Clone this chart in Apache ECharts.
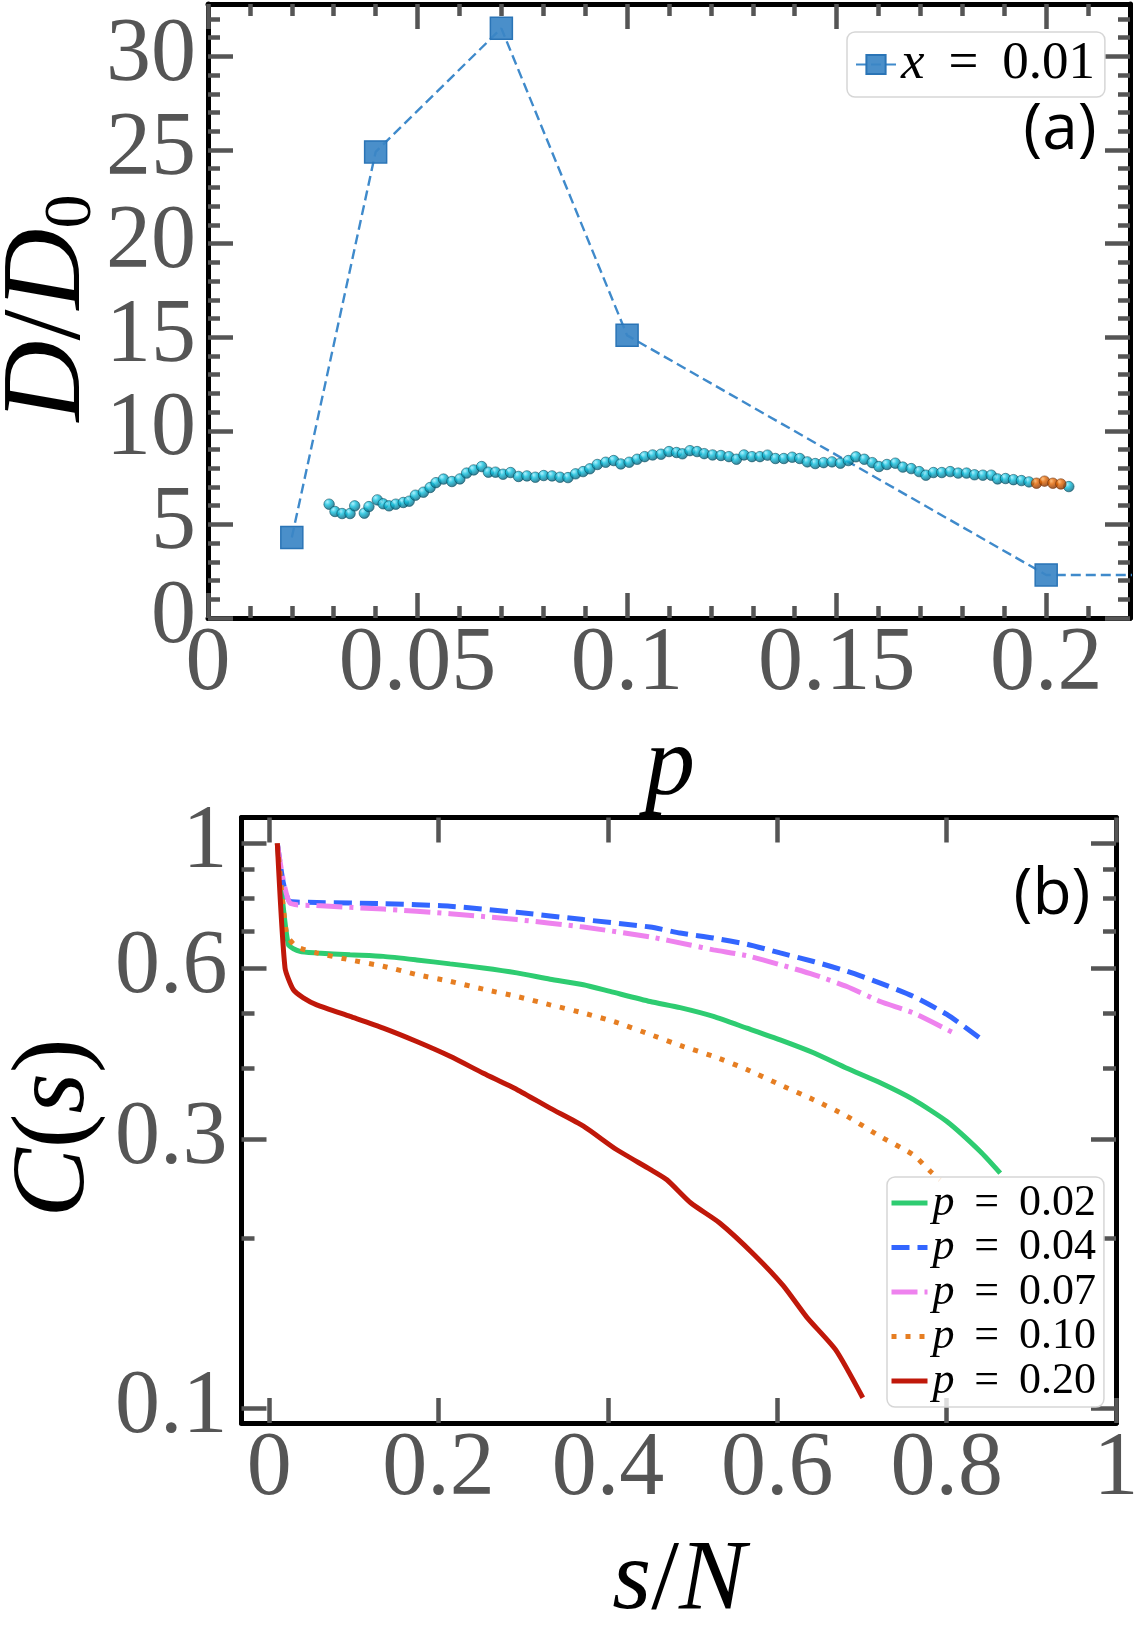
<!DOCTYPE html>
<html>
<head>
<meta charset="utf-8">
<script src="https://cdn.jsdelivr.net/npm/echarts@6/dist/echarts.min.js"></script>
<style>
html, body { margin: 0; background: #fff; }
#main { width: 1134px; height: 1626px; }
</style>
</head>
<body>
<div id="main"></div>
<script>
// ---- panel (a) : D/D0 against p ----
var pValues = [0.02, 0.04, 0.07, 0.1, 0.2, 0.3];
var dRatio = [4.3, 24.9, 31.5, 15.1, 2.3, 2.3];

// polymer picture drawn over panel (a), bead by bead
var chainP = [0.0289, 0.0303, 0.0320, 0.0339, 0.0350, 0.0373, 0.0384, 0.0404, 0.0418, 0.0432,
  0.0448, 0.0466, 0.0480, 0.0495, 0.0514, 0.0530, 0.0544, 0.0562, 0.0582, 0.0601,
  0.0617, 0.0634, 0.0653, 0.0669, 0.0686, 0.0704, 0.0722, 0.0741, 0.0761, 0.0781,
  0.0801, 0.0821, 0.0840, 0.0859, 0.0877, 0.0895, 0.0911, 0.0929, 0.0949, 0.0968,
  0.0985, 0.1005, 0.1024, 0.1042, 0.1061, 0.1081, 0.1100, 0.1118, 0.1132, 0.1150,
  0.1167, 0.1184, 0.1204, 0.1224, 0.1243, 0.1261, 0.1279, 0.1298, 0.1317, 0.1335,
  0.1354, 0.1374, 0.1394, 0.1412, 0.1430, 0.1449, 0.1469, 0.1489, 0.1509, 0.1528,
  0.1546, 0.1566, 0.1585, 0.1601, 0.1620, 0.1640, 0.1658, 0.1678, 0.1697, 0.1713,
  0.1731, 0.1751, 0.1771, 0.1790, 0.1810, 0.1829, 0.1849, 0.1869, 0.1884, 0.1903,
  0.1922, 0.1941, 0.1959, 0.2054];
var chainD = [6.08, 5.69, 5.58, 5.58, 5.99, 5.60, 5.95, 6.31, 6.10, 5.99,
  6.08, 6.17, 6.24, 6.56, 6.72, 6.97, 7.23, 7.42, 7.29, 7.43,
  7.74, 7.91, 8.09, 7.79, 7.79, 7.68, 7.77, 7.56, 7.59, 7.52,
  7.61, 7.59, 7.52, 7.50, 7.70, 7.82, 7.97, 8.20, 8.32, 8.41,
  8.23, 8.32, 8.48, 8.62, 8.71, 8.75, 8.89, 8.84, 8.77, 8.94,
  8.89, 8.78, 8.71, 8.68, 8.62, 8.48, 8.71, 8.62, 8.62, 8.70,
  8.52, 8.52, 8.59, 8.52, 8.34, 8.25, 8.30, 8.34, 8.27, 8.41,
  8.61, 8.48, 8.30, 8.09, 8.20, 8.27, 8.06, 7.98, 7.82, 7.63,
  7.77, 7.77, 7.82, 7.74, 7.74, 7.65, 7.63, 7.63, 7.43, 7.45,
  7.39, 7.34, 7.27, 7.02];
var chainTipP = [0.1977, 0.1996, 0.2016, 0.2035];
var chainTipD = [7.20, 7.31, 7.20, 7.16];

var aMajorX = [0, 0.05, 0.1, 0.15, 0.2];
var aMinorX = [0.01, 0.02, 0.03, 0.04, 0.06, 0.07, 0.08, 0.09, 0.11, 0.12, 0.13, 0.14,
  0.16, 0.17, 0.18, 0.19, 0.21];
var aMajorY = [0, 5, 10, 15, 20, 25, 30];
var aMinorY = [1, 2, 3, 4, 6, 7, 8, 9, 11, 12, 13, 14, 16, 17, 18, 19, 21, 22, 23, 24,
  26, 27, 28, 29, 31, 32];

// ---- panel (b) : C(s) against s/N ----
var sGreen = [0.0096, 0.0226, 0.0364, 0.0561, 0.0955, 0.1348, 0.1742, 0.2136, 0.2529, 0.2924,
  0.3317, 0.3711, 0.4026, 0.4499, 0.4853, 0.5246, 0.5641, 0.6034, 0.6428, 0.6822, 0.7216,
  0.7609, 0.8003, 0.8397, 0.8633];
var cGreen = [1.0, 0.662, 0.644, 0.640, 0.635, 0.631, 0.622, 0.612, 0.602, 0.590,
  0.575, 0.562, 0.547, 0.525, 0.512, 0.494, 0.471, 0.449, 0.426, 0.400, 0.377,
  0.352, 0.322, 0.285, 0.261];
var sBlue = [0.0096, 0.0167, 0.0246, 0.0561, 0.1348, 0.2136, 0.2924, 0.3711, 0.4499, 0.4853,
  0.5246, 0.5641, 0.6034, 0.6428, 0.6822, 0.7216, 0.7609, 0.8003, 0.8397];
var cBlue = [1.0, 0.851, 0.789, 0.786, 0.782, 0.774, 0.755, 0.733, 0.711, 0.694,
  0.680, 0.663, 0.640, 0.618, 0.594, 0.566, 0.536, 0.498, 0.452];
var sPink = [0.0096, 0.0246, 0.0561, 0.1348, 0.2136, 0.2924, 0.3711, 0.4499, 0.4971, 0.5246,
  0.5641, 0.6034, 0.6428, 0.6822, 0.7216, 0.7609, 0.8082];
var cPink = [1.0, 0.784, 0.776, 0.765, 0.751, 0.733, 0.711, 0.683, 0.661, 0.648,
  0.633, 0.610, 0.586, 0.558, 0.525, 0.501, 0.462];
var sOrange = [0.0096, 0.0207, 0.0325, 0.0561, 0.0955, 0.1348, 0.1742, 0.2136, 0.2529, 0.2924,
  0.3317, 0.3711, 0.4105, 0.4499, 0.4893, 0.5246, 0.5641, 0.6034, 0.6428, 0.6822, 0.7216,
  0.7609, 0.7806, 0.7924];
var cOrange = [1.0, 0.689, 0.656, 0.640, 0.622, 0.606, 0.586, 0.570, 0.552, 0.536,
  0.518, 0.501, 0.482, 0.459, 0.437, 0.420, 0.398, 0.374, 0.352, 0.329, 0.303,
  0.281, 0.263, 0.254];
var sRed = [0.0096, 0.0187, 0.0285, 0.0403, 0.0561, 0.0955, 0.1348, 0.1742, 0.2136, 0.2529,
  0.2924, 0.3317, 0.3711, 0.4105, 0.4499, 0.4696, 0.498, 0.532, 0.573, 0.607, 0.635,
  0.669, 0.701];
var cRed = [1.0, 0.602, 0.551, 0.533, 0.518, 0.494, 0.471, 0.446, 0.420, 0.392,
  0.367, 0.340, 0.316, 0.287, 0.265, 0.254, 0.231, 0.213, 0.187, 0.165, 0.145,
  0.127, 0.1045];

var bMajorX = [0, 0.2, 0.4, 0.6, 0.8, 1];
var bMajorY = [0.1, 0.3, 0.6, 1];
var bMinorY = [0.2, 0.4, 0.5, 0.7, 0.8, 0.9];

var serif = '"Liberation Serif", "DejaVu Serif", serif';
var tickGray = '#555555';

function zip(a, b) {
  return a.map(function (v, i) { return [v, b[i]]; });
}

// one side of a frame: either the labelled/lined main axis, or a bare axis carrying ticks
function axis(grid, type, min, max, pos, ticks, len, withLine, labels, margin) {
  var ax = {
    type: type, gridIndex: grid, min: min, max: max, position: pos,
    axisLine: { show: withLine, onZero: false, lineStyle: { color: '#000', width: 5 } },
    axisTick: { show: true, inside: true, length: len, customValues: ticks,
      lineStyle: { color: tickGray, width: 4.5 } },
    axisLabel: { show: false },
    splitLine: { show: false },
    minorTick: { show: false },
    minorSplitLine: { show: false }
  };
  if (type === 'log') ax.logBase = 10;
  if (labels) {
    ax.axisLabel = {
      show: true, customValues: ticks, margin: margin,
      color: tickGray, fontFamily: serif, fontSize: 90,
      formatter: function (v) { return '{t|' + (+v.toFixed(3)) + '}'; },
      rich: { t: { fontFamily: serif, fontSize: 90, color: tickGray } }
    };
  }
  return ax;
}

var xAxes = [
  axis(0, 'value', 0, 0.22, 'bottom', aMajorX, 25, true, true, 2),
  axis(0, 'value', 0, 0.22, 'bottom', aMinorX, 12, false, false),
  axis(0, 'value', 0, 0.22, 'top', aMajorX, 25, true, false),
  axis(0, 'value', 0, 0.22, 'top', aMinorX, 12, false, false),
  axis(1, 'value', -0.0327, 1.0, 'bottom', bMajorX, 25, true, true, 2),
  axis(1, 'value', -0.0327, 1.0, 'top', bMajorX, 25, true, false)
];
var yAxes = [
  axis(0, 'value', 0, 32.8, 'left', aMajorY, 25, true, true, 12),
  axis(0, 'value', 0, 32.8, 'left', aMinorY, 12, false, false),
  axis(0, 'value', 0, 32.8, 'right', aMajorY, 25, true, false),
  axis(0, 'value', 0, 32.8, 'right', aMinorY, 12, false, false),
  axis(1, 'log', 0.0943, 1.111, 'left', bMajorY, 25, true, true, 14),
  axis(1, 'log', 0.0943, 1.111, 'left', bMinorY, 13, false, false),
  axis(1, 'log', 0.0943, 1.111, 'right', bMajorY, 25, true, false),
  axis(1, 'log', 0.0943, 1.111, 'right', bMinorY, 13, false, false)
];

function bead(c0, c1, c2) {
  return new echarts.graphic.RadialGradient(0.35, 0.3, 0.7, [
    { offset: 0, color: c0 }, { offset: 0.4, color: c1 }, { offset: 1, color: c2 }
  ]);
}

function curve(name, s, c, color, dash) {
  return {
    name: name, type: 'line', xAxisIndex: 4, yAxisIndex: 4,
    data: zip(s, c), symbol: 'none', showSymbol: false, z: 3,
    smooth: 0.2,
    lineStyle: { color: color, width: 5, type: dash, cap: 'butt' },
    itemStyle: { color: color }
  };
}

var myChart = echarts.init(document.getElementById('main'), null, { renderer: 'canvas' });

myChart.setOption({
  backgroundColor: '#fff',
  animation: false,
  grid: [
    { left: 208, top: 4, width: 922, height: 614, containLabel: false, outerBoundsMode: 'none' },
    { left: 241.5, top: 817.5, width: 874.5, height: 605.5, containLabel: false, outerBoundsMode: 'none' }
  ],
  xAxis: xAxes,
  yAxis: yAxes,
  legend: [
    {
      data: ['x = 0.01'], orient: 'vertical', left: 847, top: 32,
      padding: [6, 10, 6, 8], itemWidth: 40, itemHeight: 24, itemGap: 0,
      backgroundColor: 'rgba(255,255,255,0.8)', borderColor: '#d6d6d6', borderWidth: 1.5,
      borderRadius: 8,
      formatter: function (n) { return '{i|x}{n| \u2009= \u20090.01}'; },
      textStyle: {
        fontSize: 53, lineHeight: 48, fontFamily: serif, color: '#000',
        rich: {
          i: { fontFamily: serif, fontStyle: 'italic', fontSize: 53, lineHeight: 48, color: '#000' },
          n: { fontFamily: serif, fontSize: 53, lineHeight: 48, color: '#000' }
        }
      }
    },
    {
      data: ['p = 0.02', 'p = 0.04', 'p = 0.07', 'p = 0.10', 'p = 0.20'],
      orient: 'vertical', left: 887, top: 1177,
      padding: [4, 8, 4, 2], itemWidth: 36, itemHeight: 12, itemGap: 0.5,
      backgroundColor: 'rgba(255,255,255,0.8)', borderColor: '#d6d6d6', borderWidth: 1.5,
      borderRadius: 8,
      itemStyle: { opacity: 0 },
      lineStyle: { width: 5 },
      formatter: function (n) { return '{i|p}{n| \u2009= \u2009' + n.slice(4) + '}'; },
      textStyle: {
        fontSize: 44, lineHeight: 40, fontFamily: serif, color: '#000',
        rich: {
          i: { fontFamily: serif, fontStyle: 'italic', fontSize: 44, lineHeight: 40, color: '#000' },
          n: { fontFamily: serif, fontSize: 44, lineHeight: 40, color: '#000' }
        }
      }
    }
  ],
  series: [
    {
      name: 'x = 0.01', type: 'line', xAxisIndex: 0, yAxisIndex: 0,
      data: zip(pValues, dRatio), symbol: 'rect', symbolSize: 22, z: 2,
      lineStyle: { color: '#3f8acb', width: 2.4, type: [10, 5] },
      itemStyle: { color: 'rgba(59,134,198,0.92)', borderColor: '#2a74b6', borderWidth: 1.5 }
    },
    {
      name: 'chain', type: 'scatter', xAxisIndex: 0, yAxisIndex: 0, z: 4,
      data: zip(chainP, chainD), symbol: 'circle', symbolSize: 10.5,
      itemStyle: { color: bead('#9beeff', '#0fbfdc', '#05607a'), borderColor: '#07485a', borderWidth: 0.7 }
    },
    {
      name: 'chainTip', type: 'scatter', xAxisIndex: 0, yAxisIndex: 0, z: 5,
      data: zip(chainTipP, chainTipD), symbol: 'circle', symbolSize: 10.5,
      itemStyle: { color: bead('#ffb060', '#e06400', '#853200'), borderColor: '#6a2a00', borderWidth: 0.7 }
    },
    curve('p = 0.02', sGreen, cGreen, '#2ecc71', 'solid'),
    curve('p = 0.04', sBlue, cBlue, '#3366ff', [18, 8]),
    curve('p = 0.07', sPink, cPink, '#ee82ee', [26, 7, 4, 7]),
    curve('p = 0.10', sOrange, cOrange, '#e67e22', [5, 9]),
    curve('p = 0.20', sRed, cRed, '#c0180a', 'solid')
  ],
  graphic: [
    { type: 'text', x: 1060, y: 131, z: 100,
      style: { text: '(a)', fontFamily: 'Open Sans', fontWeight: 500, fontSize: 64, fill: '#000', align: 'center', verticalAlign: 'middle' } },
    { type: 'text', x: 1052, y: 896, z: 100,
      style: { text: '(b)', fontFamily: 'Open Sans', fontWeight: 500, fontSize: 64, fill: '#000', align: 'center', verticalAlign: 'middle' } },
    { type: 'text', x: 50, y: 308, rotation: Math.PI / 2, z: 100,
      style: { text: '{i|D}{n|/}{i|D}{s|0}', align: 'center', verticalAlign: 'middle', fill: '#000',
        rich: {
          i: { fontFamily: serif, fontStyle: 'italic', fontSize: 112, lineHeight: 112, fill: '#000' },
          n: { fontFamily: serif, fontSize: 112, lineHeight: 112, fill: '#000' },
          s: { fontFamily: serif, fontSize: 68, lineHeight: 68, verticalAlign: 'bottom', fill: '#000' }
        } } },
    { type: 'text', x: 670, y: 768, z: 100,
      style: { text: 'p', fontFamily: serif, fontStyle: 'italic', fontSize: 100, fill: '#000', align: 'center', verticalAlign: 'middle' } },
    { type: 'text', x: 56, y: 1128, rotation: Math.PI / 2, z: 100,
      style: { text: '{i|C}{n|(}{i|s}{n|)}', align: 'center', verticalAlign: 'middle', fill: '#000',
        rich: {
          i: { fontFamily: serif, fontStyle: 'italic', fontSize: 104, fill: '#000' },
          n: { fontFamily: serif, fontSize: 104, fill: '#000' }
        } } },
    { type: 'text', x: 679, y: 1582, z: 100,
      style: { text: '{i|s}{n|/}{i|N}', align: 'center', verticalAlign: 'middle', fill: '#000',
        rich: {
          i: { fontFamily: serif, fontStyle: 'italic', fontSize: 100, fill: '#000' },
          n: { fontFamily: serif, fontSize: 100, fill: '#000' }
        } } }
  ]
});
</script>
</body>
</html>
